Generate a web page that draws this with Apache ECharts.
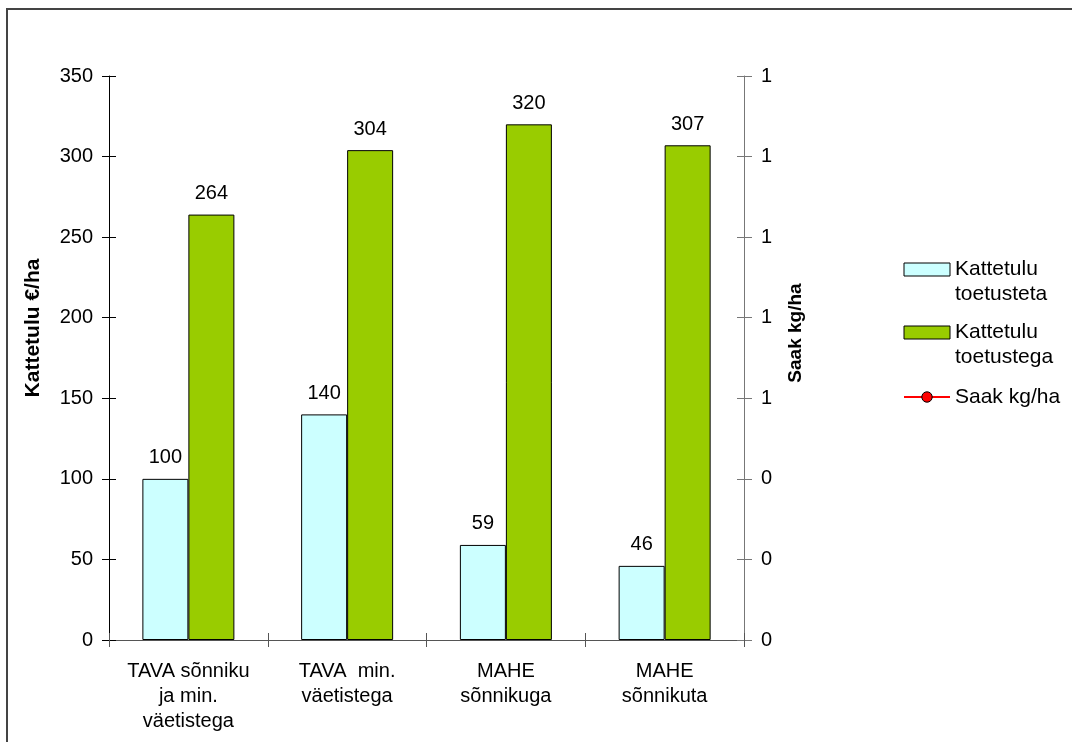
<!DOCTYPE html>
<html>
<head>
<meta charset="utf-8">
<script src="https://cdn.jsdelivr.net/npm/echarts@6/dist/echarts.min.js"></script>
<style>
  html, body { margin: 0; padding: 0; background: #fff; }
  #chart { width: 1072px; height: 742px; }
</style>
</head>
<body>
<div id="chart"></div>
<script>
// Categories (farming systems)
const categories = [
  'TAVA sõnniku\nja min.\nväetistega',
  'TAVA  min.\nväetistega',
  'MAHE\nsõnnikuga',
  'MAHE\nsõnnikuta'
];
// Gross margin without subsidies, €/ha
const kattetuluToetusteta = [100, 140, 59, 46];
// Gross margin with subsidies, €/ha
const kattetuluToetustega = [264, 304, 320, 307];
// Yield, kg/ha (no values recorded)
const saak = [];

const seriesNames = ['Kattetulu\ntoetusteta', 'Kattetulu\ntoetustega', 'Saak kg/ha'];
const leftAxisName = 'Kattetulu €/ha';
const rightAxisName = 'Saak kg/ha';

const FONT = 'Arial, "Liberation Sans", sans-serif';
const chart = echarts.init(document.getElementById('chart'));

const leftScale = { min: 0, max: 350, interval: 50 };
const rightScale = { min: 0, max: 1.4, interval: 0.2 };

const barLabel = {
  show: true,
  position: 'top',
  distance: 11,
  color: '#000',
  fontFamily: FONT,
  fontSize: 20
};

// Legend text: keep the first line of each entry level with its icon
function legendText(name) {
  return name.indexOf('\n') >= 0 ? '\n' + name : '\n' + name + '\n';
}

chart.setOption({
  animation: false,
  backgroundColor: '#fff',
  grid: { left: 109, right: 328, top: 76, bottom: 102 },
  legend: {
    orient: 'vertical',
    left: 903,
    top: 232,
    padding: 0,
    itemWidth: 46,
    itemHeight: 13,
    itemGap: -12,
    formatter: legendText,
    itemStyle: { borderWidth: 1, borderColor: '#000' },
    textStyle: {
      fontFamily: FONT,
      fontSize: 21,
      color: '#000',
      lineHeight: 25
    },
    data: [
      { name: seriesNames[0], icon: 'rect' },
      { name: seriesNames[1], icon: 'rect' },
      { name: seriesNames[2], textStyle: { lineHeight: 26 } }
    ]
  },
  xAxis: [
    {
      type: 'category',
      position: 'bottom',
      data: categories,
      axisLine: { lineStyle: { color: '#555', width: 1 } },
      axisTick: { show: true, length: 7, lineStyle: { color: '#555' } },
      axisLabel: {
        color: '#000',
        fontFamily: FONT,
        fontSize: 20,
        lineHeight: 25,
        margin: 19,
        interval: 0
      },
      splitLine: { show: false }
    },
    {
      // inner half of the crossing category ticks
      type: 'category',
      position: 'bottom',
      data: categories,
      axisLine: { show: false },
      axisTick: { show: true, inside: true, length: 7, lineStyle: { color: '#555' } },
      axisLabel: { show: false },
      splitLine: { show: false }
    }
  ],
  yAxis: [
    Object.assign({
      type: 'value',
      position: 'left',
      axisLine: { show: true, lineStyle: { color: '#000' } },
      axisTick: { show: true, length: 7, lineStyle: { color: '#000' } },
      axisLabel: { color: '#000', fontFamily: FONT, fontSize: 20, margin: 16 },
      splitLine: { show: false }
    }, leftScale),
    Object.assign({
      type: 'value',
      position: 'right',
      axisLine: { show: true, lineStyle: { color: '#777' } },
      axisTick: { show: true, length: 8, lineStyle: { color: '#777' } },
      axisLabel: {
        color: '#000', fontFamily: FONT, fontSize: 20, margin: 17,
        formatter: v => Number(v).toFixed(0)
      },
      splitLine: { show: false }
    }, rightScale),
    Object.assign({
      // inner half of the crossing left ticks
      type: 'value',
      position: 'left',
      axisLine: { show: false },
      axisTick: { show: true, inside: true, length: 7, lineStyle: { color: '#000' } },
      axisLabel: { show: false },
      splitLine: { show: false }
    }, leftScale),
    Object.assign({
      // inner half of the crossing right ticks
      type: 'value',
      position: 'right',
      axisLine: { show: false },
      axisTick: { show: true, inside: true, length: 7, lineStyle: { color: '#777' } },
      axisLabel: { show: false },
      splitLine: { show: false }
    }, rightScale)
  ],
  series: [
    {
      name: seriesNames[0],
      type: 'bar',
      yAxisIndex: 0,
      barWidth: 46,
      barGap: '0%',
      data: kattetuluToetusteta,
      itemStyle: { color: '#CCFFFF', borderColor: '#000', borderWidth: 1 },
      label: barLabel
    },
    {
      name: seriesNames[1],
      type: 'bar',
      yAxisIndex: 0,
      barWidth: 46,
      barGap: '0%',
      data: kattetuluToetustega,
      itemStyle: { color: '#99CC00', borderColor: '#000', borderWidth: 1 },
      label: barLabel
    },
    {
      name: seriesNames[2],
      type: 'line',
      yAxisIndex: 1,
      data: saak,
      symbol: 'circle',
      symbolSize: 11,
      itemStyle: { color: '#FF0000', borderWidth: 0 },
      lineStyle: { color: '#FF0000', width: 1 }
    }
  ],
  graphic: [
    {
      // outer frame of the chart area
      type: 'rect',
      silent: true,
      shape: { x: 7, y: 9, width: 1200, height: 900 },
      style: { fill: null, stroke: '#444', lineWidth: 2 }
    },
    {
      type: 'text',
      silent: true,
      x: 33,
      y: 328,
      rotation: Math.PI / 2,
      style: {
        text: leftAxisName,
        fill: '#000',
        font: 'bold 21px ' + FONT,
        align: 'center',
        verticalAlign: 'middle'
      }
    },
    {
      type: 'text',
      silent: true,
      x: 796,
      y: 333,
      rotation: Math.PI / 2,
      style: {
        text: rightAxisName,
        fill: '#000',
        font: 'bold 19px ' + FONT,
        align: 'center',
        verticalAlign: 'middle'
      }
    }
  ]
});
</script>
</body>
</html>
